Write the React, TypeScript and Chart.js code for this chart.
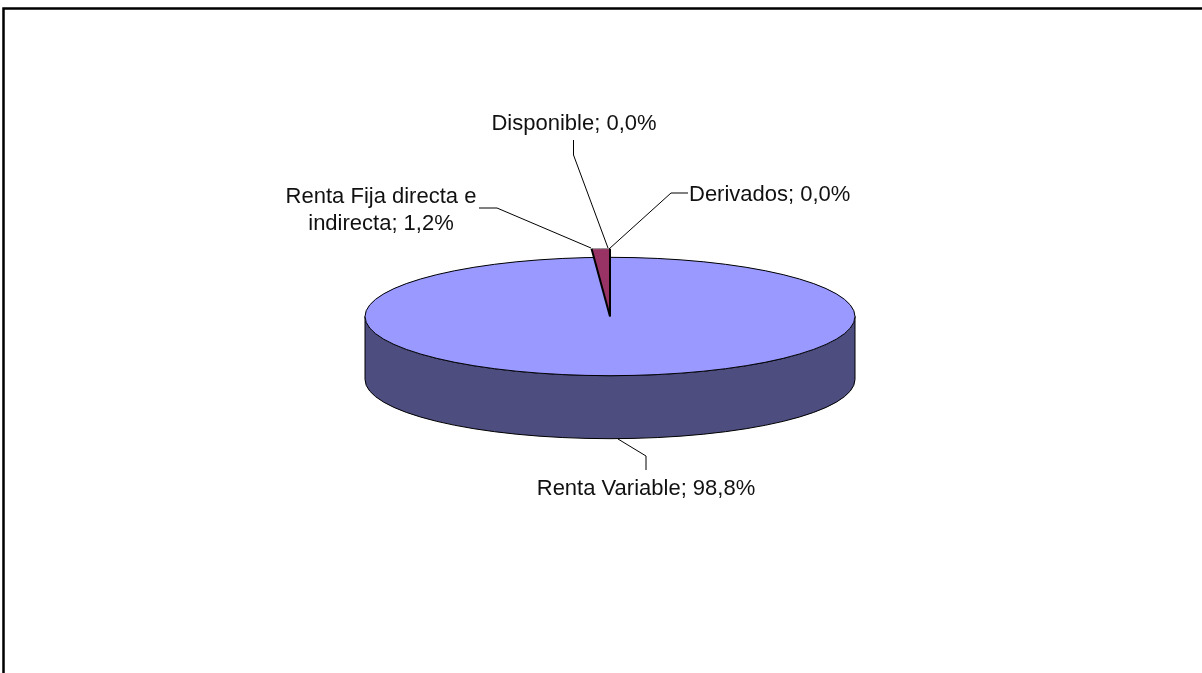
import React, { useEffect, useRef } from "react";
import { Chart, registerables } from "chart.js";

Chart.register(...registerables);

const categories = ["Renta Variable", "Renta Fija directa e indirecta", "Disponible", "Derivados"];
const shares = [98.8, 1.2, 0.0, 0.0];
const sliceColors = ["#9999FF", "#993366", "#FFFFCC", "#CCFFFF"];

const WIDTH = 1202;
const HEIGHT = 673;
const FLATTEN = 59.3 / 245.5;
const WEDGE_FLATTEN = 68 / 245.5;
const DEPTH = 63;
const WALL = "#4D4D80";
const FONT = '22px "Liberation Sans", Arial, sans-serif';

const labelLayout = [
  { lines: ["Renta Variable; 98,8%"], x: 646, y: 495, align: "center", leader: [[618, 439], [646, 456], [646, 470]] },
  { lines: ["Renta Fija directa e", "indirecta; 1,2%"], x: 381, y: 202.5, align: "center", leader: [[479, 208], [497, 208], [591, 248]] },
  { lines: ["Disponible; 0,0%"], x: 574, y: 129.5, align: "center", leader: [[573.5, 140], [573.5, 155], [608, 248]] },
  { lines: ["Derivados; 0,0%"], x: 689, y: 200.5, align: "left", leader: [[688, 193], [671, 193], [609, 249]] },
];

const piePlugin = {
  id: "flatPie",
  beforeDatasetDraw(chart: any) {
    const ctx: CanvasRenderingContext2D = chart.ctx;
    const arcs = chart.getDatasetMeta(0).data;
    const main = arcs[0];
    const { x, y, outerRadius: r } = main;
    const ry = r * FLATTEN;

    // side wall of the disc
    ctx.save();
    ctx.beginPath();
    ctx.moveTo(x - r, y);
    ctx.lineTo(x - r, y + DEPTH);
    ctx.ellipse(x, y + DEPTH, r, ry, 0, Math.PI, 0, true);
    ctx.lineTo(x + r, y);
    ctx.ellipse(x, y, r, ry, 0, 0, Math.PI, false);
    ctx.closePath();
    ctx.fillStyle = WALL;
    ctx.fill();
    ctx.strokeStyle = "#000";
    ctx.lineWidth = 1;
    ctx.stroke();
    // full top face under the slices
    ctx.beginPath();
    ctx.ellipse(x, y, r, ry, 0, 0, Math.PI * 2);
    ctx.fillStyle = sliceColors[0];
    ctx.fill();
    ctx.restore();

    arcs.forEach((arc: any, i: number) => {
      if (shares[i] <= 0) return;
      const isMain = i === 0;
      const k = isMain ? FLATTEN : WEDGE_FLATTEN;
      ctx.save();
      ctx.translate(x, y);
      ctx.scale(1, k);
      ctx.translate(-x, -y);
      arc.draw(ctx);
      ctx.restore();

      const a0 = arc.startAngle;
      const a1 = arc.endAngle;
      const rr = r * k;
      const p0 = [x + r * Math.cos(a0), y + rr * Math.sin(a0)];
      const p1 = [x + r * Math.cos(a1), y + rr * Math.sin(a1)];
      ctx.save();
      ctx.beginPath();
      ctx.ellipse(x, y, r, rr, 0, isMain ? 0 : a0, isMain ? Math.PI * 2 : a1, false);
      ctx.strokeStyle = isMain ? "#000" : "#8a8a8a";
      ctx.lineWidth = 1;
      ctx.stroke();
      if (!isMain) {
        ctx.beginPath();
        ctx.moveTo(p0[0], p0[1]);
        ctx.lineTo(x, y);
        ctx.lineTo(p1[0], p1[1]);
        ctx.strokeStyle = "#000";
        ctx.lineWidth = 2;
        ctx.lineJoin = "bevel";
        ctx.stroke();
      }
      ctx.restore();
    });
    return false;
  },
  afterDraw(chart: any) {
    const ctx: CanvasRenderingContext2D = chart.ctx;
    ctx.save();

    // chart frame: only the top and left edges fall inside the picture
    ctx.beginPath();
    ctx.moveTo(3.5, HEIGHT);
    ctx.lineTo(3.5, 8.5);
    ctx.lineTo(WIDTH, 8.5);
    ctx.strokeStyle = "#000";
    ctx.lineWidth = 2.5;
    ctx.stroke();

    ctx.font = FONT;
    ctx.fillStyle = "#111";
    ctx.textBaseline = "alphabetic";
    labelLayout.forEach((lab) => {
      ctx.beginPath();
      lab.leader.forEach((p, i) => (i ? ctx.lineTo(p[0], p[1]) : ctx.moveTo(p[0], p[1])));
      ctx.strokeStyle = "#000";
      ctx.lineWidth = 1;
      ctx.stroke();
      ctx.textAlign = lab.align as CanvasTextAlign;
      lab.lines.forEach((t, i) => ctx.fillText(t, lab.x, lab.y + i * 27.5));
    });
    ctx.restore();
  },
};

export default function App() {
  const ref = useRef<HTMLCanvasElement>(null);
  useEffect(() => {
    if (!ref.current) return;
    const chart = new Chart(ref.current, {
      type: "pie",
      data: {
        labels: categories,
        datasets: [{ data: shares, backgroundColor: sliceColors, borderWidth: 0 }],
      },
      options: {
        responsive: false,
        animation: false,
        layout: { padding: { left: 364.5, right: 346.5, top: 71.5, bottom: 111.5 } },
        plugins: { legend: { display: false }, tooltip: { enabled: false } },
      },
      plugins: [piePlugin],
    } as any);
    return () => chart.destroy();
  }, []);
  return (
    <div style={{ position: "absolute", left: 0, top: 0, width: WIDTH, height: HEIGHT, background: "#fff" }}>
      <canvas ref={ref} width={WIDTH} height={HEIGHT} style={{ display: "block" }} />
    </div>
  );
}
